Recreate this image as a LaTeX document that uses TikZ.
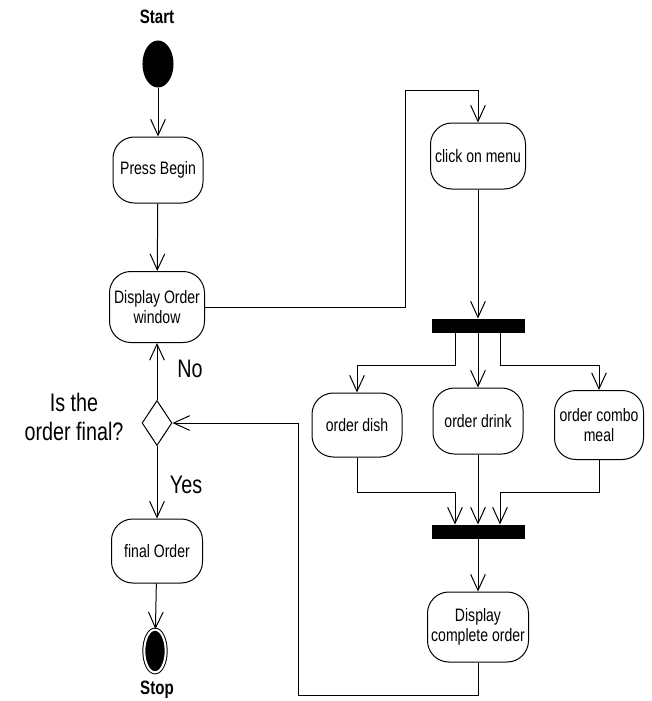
\documentclass[tikz,border=0pt]{standalone}
\usepackage{fontspec}
\setmainfont{Liberation Sans}
\newfontfamily\labfont[FakeStretch=0.78]{Liberation Sans}
\usetikzlibrary{arrows.meta,shapes.geometric}
\begin{document}
\begin{tikzpicture}[x=0.75pt,y=-0.75pt,
  line width=0.75pt,
  arr/.style={-{Straight Barb[length=12pt,width=11pt,line width=0.75pt]}},
  act/.style={draw,rounded corners=16pt,inner sep=1pt,align=center,font=\labfont\fontsize{13.5}{15.5}\selectfont},
  bar/.style={draw,fill=black,inner sep=0pt,minimum width=69pt,minimum height=9.75pt},
  big/.style={font=\labfont\fontsize{19}{21.5}\selectfont,align=center},
  ttl/.style={font=\labfont\bfseries\fontsize{14.5}{16}\selectfont}]
\useasboundingbox (0,0) rectangle (651,701);
% nodes
\node[ttl] (tstart) at (157,17) {Start};
\node[draw,fill=black,ellipse,inner sep=0pt,minimum width=22.5pt,minimum height=34.5pt] (start) at (158,64) {};
\node[act,minimum width=67.5pt,minimum height=49.5pt] (press) at (158,170) {Press Begin};
\node[act,minimum width=71.25pt,minimum height=53.25pt] (disp) at (157,307) {Display Order\\window};
\node[act,minimum width=71.25pt,minimum height=49.5pt] (click) at (478,156) {click on menu};
\node[bar] (bar1) at (478,325.5) {};
\node[act,minimum width=67.5pt,minimum height=48pt] (dish) at (357,425) {order dish};
\node[act,minimum width=67.5pt,minimum height=49.5pt] (drink) at (478,421) {order drink};
\node[act,minimum width=66.75pt,minimum height=51.75pt] (combo) at (599,425) {order combo\\meal};
\node[bar] (bar2) at (478,531.5) {};
\node[act,minimum width=75.75pt,minimum height=52.5pt] (complete) at (478,627) {Display\\complete order};
\node[draw,diamond,inner sep=0pt,minimum width=22.5pt,minimum height=33.75pt] (dec) at (157,423) {};
\node[act,minimum width=68.25pt,minimum height=48pt] (final) at (157,551) {final Order};
\node[draw,fill=black,ellipse,double=white,double distance=1.5pt,inner sep=0pt,minimum width=16pt,minimum height=32pt] (stop) at (155,651) {};
\node[ttl] (tstop) at (157,690) {Stop};
\node[big] (lno) at (190,369) {No};
\node[big] (lyes) at (186,485) {Yes};
\node[big] (lq) at (74,417) {Is the\\order final?};
% helper coordinates
\coordinate (c1) at (405,90);
\coordinate (f1) at (455,365);
\coordinate (f2) at (500,365);
\coordinate (g1) at (455,492);
\coordinate (g2) at (500,492);
\coordinate (h1) at (298,695);
% connectors
\draw[arr] (start) -- (press);
\draw[arr] (press) -- (disp);
\draw[arr] (disp.east) -| (c1) -| (click.north);
\draw[arr] (click) -- (bar1);
\draw[arr] (f1 |- bar1.south) -- (f1) -| (dish.north);
\draw[arr] (bar1) -- (drink);
\draw[arr] (f2 |- bar1.south) -- (f2) -| (combo.north);
\draw[arr] (dish.south) |- (g1) -- (g1 |- bar2.north);
\draw[arr] (drink) -- (bar2);
\draw[arr] (combo.south) |- (g2) -- (g2 |- bar2.north);
\draw[arr] (bar2) -- (complete);
\draw[arr] (complete.south) |- (h1) |- (dec.east);
\draw[arr] (dec.north) -- (disp.south);
\draw[arr] (dec.south) -- (final.north);
\draw[arr] (final) -- (stop);
\end{tikzpicture}
\end{document}
